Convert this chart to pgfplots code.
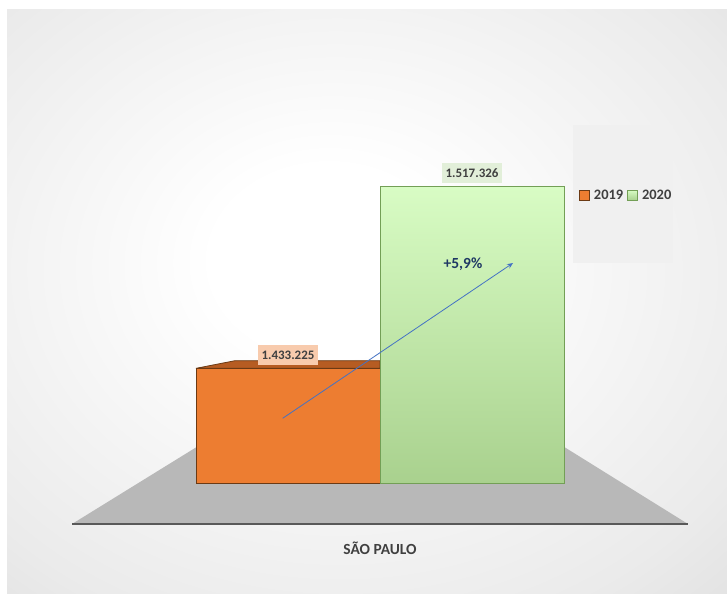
\documentclass[border=0pt]{standalone}
\usepackage{pgfplots}
\pgfplotsset{compat=1.18}
\usepackage{fontspec}
\setmainfont{Carlito}
\usetikzlibrary{arrows.meta}

\definecolor{orangefront}{HTML}{ED7D31}
\definecolor{orangetop}{HTML}{B65C22}
\definecolor{orangeline}{HTML}{6B3A14}
\definecolor{orangelabel}{HTML}{F8CBAD}
\definecolor{greentop}{HTML}{D8FCC4}
\definecolor{greenbottom}{HTML}{A9D18E}
\definecolor{greenline}{HTML}{739F56}
\definecolor{greenlabel}{HTML}{E2EFD9}
\definecolor{txtgray}{HTML}{404040}
\definecolor{arrowblue}{HTML}{4472C4}
\definecolor{navy}{HTML}{1F3864}
\definecolor{floorgray}{HTML}{B8B8B8}
\definecolor{floorline}{HTML}{595959}

% background glow
\pgfdeclareradialshading{bgshade}{\pgfpoint{-3bp}{4bp}}{%
  color(0bp)=(white); color(8bp)=(white); color(32bp)=(black!8);
  color(50bp)=(black!17); color(71bp)=(black!26)}

\begin{document}
\begin{tikzpicture}
\useasboundingbox (0,0) rectangle (727bp,594bp);
\shade[shading=bgshade] (7bp,0bp) rectangle (727bp,584bp);

% floor of the 3-D chart
\fill[floorgray] (72bp,70bp) -- (688bp,70bp) -- (553bp,154bp) -- (208bp,154bp) -- cycle;
\draw[line width=1.5bp, floorline] (72bp,70bp) -- (688bp,70bp);

% legend panel
\fill[black!6] (573bp,331bp) rectangle (673bp,469bp);

\begin{axis}[
    at={(72bp,110.7bp)}, anchor=south west,
    scale only axis, width=616bp, height=345.6bp,
    xmin=-1, xmax=1, ymin=1380000, ymax=1540000,
    ybar=0pt, bar width=184bp,
    axis line style={draw=none}, tick style={draw=none},
    ytick=\empty, xtick={0}, xticklabels={SÃO PAULO},
    xticklabel style={anchor=center, yshift=-61bp,
        font=\fontsize{15.5}{18}\selectfont\bfseries, text=txtgray},
    point meta=explicit symbolic,
    nodes near coords,
    every node near coord/.append style={
        font=\fontsize{13}{15}\selectfont\bfseries, text=txtgray,
        anchor=south, yshift=3bp, minimum height=20bp, inner xsep=4bp},
    legend columns=2,
    legend style={draw=none, fill=none, inner sep=0pt,
        at={(0.823,0.834)}, anchor=west,
        font=\fontsize{14.5}{16}\selectfont\bfseries, text=txtgray,
        /tikz/every odd column/.append style={column sep=2bp},
        /tikz/every even column/.append style={column sep=2bp}},
    legend image code/.code={\draw[#1] (0bp,-5bp) rectangle (10bp,5bp);},
]
% top face of the 2019 block
\draw[fill=orangetop, draw=orangeline, line width=0.8bp]
    (axis cs:-0.5974,1433225) -- (axis cs:0,1433225)
    -- (axis cs:0,1436760) -- (axis cs:-0.4708,1436760) -- cycle;

\addplot[fill=orangefront, draw=orangeline, line width=0.8bp,
    every node near coord/.append style={fill=orangelabel}]
    coordinates {(0,1433225) [1.433.225]};
\addplot[top color=greentop, bottom color=greenbottom, draw=greenline, line width=0.8bp,
    every node near coord/.append style={fill=greenlabel}]
    coordinates {(0,1517326) [1.517.326]};
\legend{2019,2020}

\draw[-{Stealth[length=6bp,width=5bp]}, arrowblue, line width=0.8bp]
    (axis cs:-0.316,1410093) -- (axis cs:0.432,1481991);
\node[font=\fontsize{15.5}{17}\selectfont\bfseries, text=navy]
    at (axis cs:0.2695,1481500) {+5,9\%};
\end{axis}
\end{tikzpicture}
\end{document}
